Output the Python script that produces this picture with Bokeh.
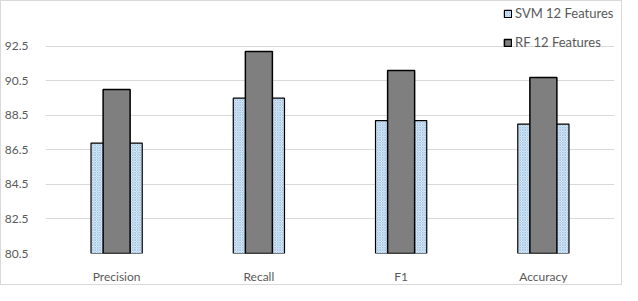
from bokeh.plotting import figure
from bokeh.models import Range1d, FactorRange, FixedTicker, Legend, LegendItem
from bokeh.embed import file_html
from bokeh.resources import INLINE

categories = ["Precision", "Recall", "F1", "Accuracy"]
svm_values = [86.9, 89.5, 88.2, 88.0]
rf_values = [90.0, 92.2, 91.1, 90.7]
y_ticks = [80.5, 82.5, 84.5, 86.5, 88.5, 90.5, 92.5]
y_top = 95.1  # headroom above the last tick, holding the legend
series_names = ["SVM 12 Features", "RF 12 Features"]

FONT = "Lato"
GRAY_TEXT = "#595959"

p = figure(
    width=622, height=285,
    x_range=FactorRange(*categories),
    y_range=Range1d(y_ticks[0], y_top),
    output_backend="svg", toolbar_location=None,
    min_border_left=40, min_border_right=9, min_border_top=0, min_border_bottom=31,
)
p.styles = {"border": "1px solid #d9d9d9", "box-sizing": "border-box"}
p.outline_line_color = None
p.background_fill_color = "white"
p.border_fill_color = "white"

svm = p.vbar(x=categories, top=svm_values, bottom=y_ticks[0], width=0.36,
             fill_color="white", line_color="black", line_width=1.2,
             hatch_pattern="diagonal_cross", hatch_color="#9dc3e6",
             hatch_scale=2.5, hatch_weight=1)
rf = p.vbar(x=categories, top=rf_values, bottom=y_ticks[0], width=0.19,
            fill_color="#7f7f7f", line_color="black", line_width=1.5)

# axes
p.yaxis.ticker = FixedTicker(ticks=y_ticks)
p.yaxis.axis_line_color = None
p.yaxis.major_tick_line_color = None
p.yaxis.minor_tick_line_color = None
p.yaxis.major_label_standoff = 11
p.yaxis.major_label_text_font = FONT
p.yaxis.major_label_text_font_size = "12px"
p.yaxis.major_label_text_color = GRAY_TEXT

p.xaxis.axis_line_color = None
p.xaxis.major_tick_line_color = None
p.xaxis.minor_tick_line_color = None
p.xaxis.major_label_standoff = 9
p.xaxis.major_label_text_font = FONT
p.xaxis.major_label_text_font_size = "12px"
p.xaxis.major_label_text_color = GRAY_TEXT

p.xgrid.grid_line_color = None
p.ygrid.ticker = FixedTicker(ticks=y_ticks)
p.ygrid.grid_line_color = "#d9d9d9"
p.ygrid.grid_line_width = 1.2

legend = Legend(
    items=[LegendItem(label=series_names[0], renderers=[svm]),
           LegendItem(label=series_names[1], renderers=[rf])],
    location=(458, 203),
    orientation="vertical",
    glyph_width=9, glyph_height=9, label_height=14, spacing=13,
    padding=0, margin=0, label_standoff=3,
    label_text_font=FONT, label_text_font_size="13px",
    label_text_color=GRAY_TEXT,
    border_line_color=None, background_fill_alpha=0,
)
p.add_layout(legend, "center")

open("out.html", "w").write(file_html(p, INLINE))
